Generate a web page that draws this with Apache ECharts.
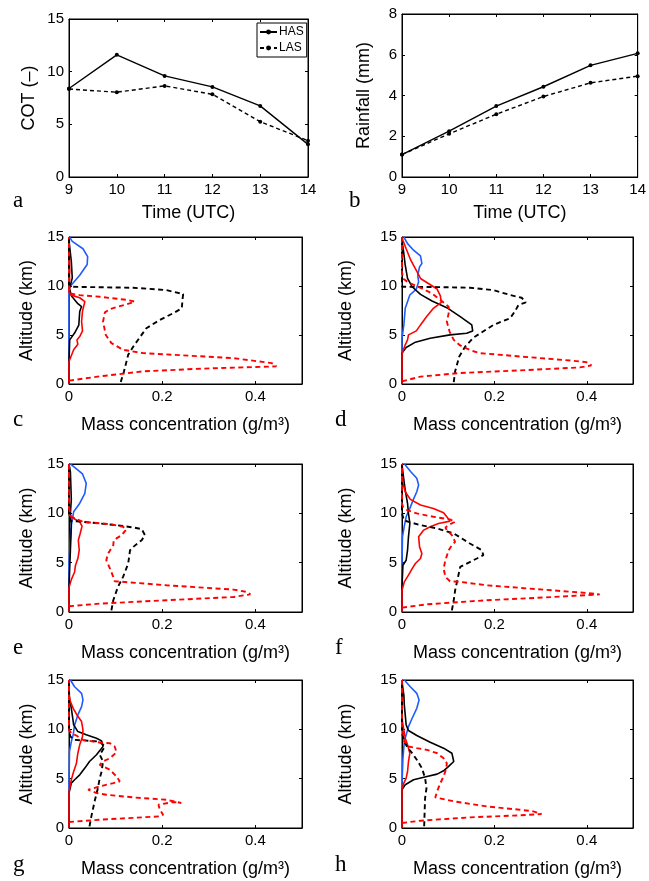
<!DOCTYPE html>
<html>
<head>
<meta charset="utf-8">
<script src="https://cdn.jsdelivr.net/npm/echarts@6/dist/echarts.min.js"></script>
<style>
html,body{margin:0;padding:0;background:#fff;}
#chart{width:649px;height:881px;}
</style>
</head>
<body>
<div id="chart"></div>
<script>
// ---------- Data ----------
const timeUTC = [9, 10, 11, 12, 13, 14];
const cotHAS = [8.4, 11.6, 9.6, 8.55, 6.75, 3.1];
const cotLAS = [8.35, 8.05, 8.65, 7.85, 5.25, 3.45];
const rainHAS = [1.1, 2.25, 3.48, 4.43, 5.48, 6.07];
const rainLAS = [1.1, 2.12, 3.08, 3.95, 4.62, 4.95];

const concTicks = [0, 0.2, 0.4];
const altTicks = [0, 5, 10, 15];

// profiles: [mass concentration (g/m3), altitude (km)]
const cBlue = [[0,0],[0,4.7],[0,9.75],[0.005,10.1],[0.023,11.1],[0.039,12.2],[0.040,13.0],[0.030,13.8],[0.007,14.56],[0.001,15]];
const cBlack = [[0,0],[0,2.3],[0.0015,4.5],[0.012,5.2],[0.021,6.0],[0.023,7.4],[0.027,7.9],[0.019,8.2],[0.005,9.0],[0.001,9.75],[0.007,10.8],[0.005,12.5],[0.001,14.2],[0,15]];
const cRed = [[0,0],[0,2.3],[0.010,3.5],[0.019,4.06],[0.017,4.5],[0.023,4.84],[0.029,5.42],[0.027,6.37],[0.029,7.45],[0.034,8.4],[0.023,8.8],[0.005,9.07],[0,9.4],[0.0015,11.8],[0,14.2],[0,15]];
const cBlackDash = [[0.111,0.2],[0.118,1.29],[0.127,2.98],[0.138,3.83],[0.166,5.69],[0.195,6.54],[0.227,7.31],[0.242,7.72],[0.244,8.8],[0.245,9.18],[0.209,9.58],[0.138,9.82],[0.005,9.92],[0,10.1],[0,15]];
const cRedDash = [[0,0.34],[0.066,0.78],[0.159,1.29],[0.281,1.56],[0.445,1.8],[0.435,2.13],[0.353,2.64],[0.159,3.15],[0.116,3.49],[0.091,4.17],[0.079,5.0],[0.073,6.37],[0.077,7.31],[0.088,7.65],[0.123,8.13],[0.141,8.4],[0.127,8.57],[0.066,8.9],[0.023,9.07],[0.001,9.25],[0,15]];

const dBlue = [[0,0],[0,4.67],[0.004,6.03],[0.007,7.72],[0.017,9.08],[0.031,9.69],[0.036,10.43],[0.034,11.1],[0.038,11.95],[0.043,12.3],[0.040,13.07],[0.025,13.65],[0.012,14.32],[0.004,15]];
const dBlack = [[0,0],[0,3.15],[0.009,3.72],[0.029,4.27],[0.061,4.67],[0.104,5.01],[0.140,5.18],[0.153,5.42],[0.151,6.03],[0.126,6.87],[0.097,7.79],[0.065,8.47],[0.040,9.14],[0.022,9.92],[0.012,10.77],[0.007,12.12],[0.004,13.31],[0.001,14.32],[0,15]];
const dRed = [[0,0],[0,3.05],[0.007,4.0],[0.012,4.5],[0.014,5.01],[0.031,5.42],[0.040,6.03],[0.053,6.87],[0.068,7.72],[0.085,8.33],[0.083,9.0],[0.076,9.69],[0.058,10.23],[0.040,10.77],[0.031,11.6],[0.019,12.63],[0.009,13.8],[0.002,14.66],[0,15]];
const dBlackDash = [[0.112,0.2],[0.115,1.29],[0.124,2.81],[0.137,3.83],[0.155,4.74],[0.198,6.03],[0.234,6.71],[0.245,7.45],[0.252,8.06],[0.268,8.33],[0.259,8.8],[0.234,9.08],[0.198,9.58],[0.147,9.82],[0.076,9.89],[0,9.92],[0,15]];
const dRedDash = [[0,0.27],[0.040,0.75],[0.126,1.12],[0.255,1.39],[0.385,1.69],[0.410,1.9],[0.399,2.23],[0.371,2.37],[0.255,2.81],[0.169,3.15],[0.151,3.39],[0.126,3.93],[0.112,4.5],[0.103,5.35],[0.097,6.37],[0.101,7.21],[0.101,7.89],[0.086,8.47],[0.065,9.24],[0.040,9.82],[0.014,10.36],[0.002,10.77],[0,11.45],[0,15]];

const eBlue = [[0,0],[0,4.9],[0.002,6.6],[0.004,8.47],[0.010,10.16],[0.022,10.94],[0.034,12.02],[0.037,13.04],[0.029,13.99],[0.010,14.73],[0.003,15]];
const eBlack = [[0,0],[0,2.54],[0.003,6.26],[0.005,8.64],[0.003,10.0],[0.005,11.4],[0.003,14.2],[0,15]];
const eRed = [[0,0],[0,2.47],[0.005,3.28],[0.012,4.06],[0.014,4.74],[0.019,5.42],[0.022,6.26],[0.020,7.28],[0.024,7.96],[0.028,8.7],[0.023,9.14],[0.010,9.48],[0.001,9.82],[0,10.33],[0,15]];
const eBlackDash = [[0.091,0.17],[0.095,1.19],[0.105,2.54],[0.116,3.56],[0.127,4.91],[0.131,6.26],[0.138,6.6],[0.156,7.28],[0.163,7.79],[0.156,8.4],[0.138,8.57],[0.102,8.8],[0.030,9.14],[0.003,9.24],[0,9.99],[0,15]];
const eRedDash = [[0,0.58],[0.066,0.85],[0.209,1.19],[0.353,1.52],[0.389,1.79],[0.382,2.03],[0.353,2.27],[0.209,2.71],[0.098,3.12],[0.095,3.56],[0.088,4.4],[0.080,5.25],[0.084,5.93],[0.095,6.77],[0.096,7.28],[0.113,7.79],[0.123,8.36],[0.116,8.64],[0.088,8.9],[0.030,9.14],[0.005,9.65],[0.001,10.33],[0,15]];

const fBlue = [[0,0],[0,4.9],[0.001,7.62],[0.005,8.7],[0.009,9.65],[0.017,10.5],[0.024,11.34],[0.032,12.19],[0.036,12.87],[0.032,13.55],[0.019,14.22],[0.007,14.9],[0.005,15]];
const fBlack = [[0,0],[0,2.54],[0.002,4.74],[0.009,5.25],[0.012,6.26],[0.014,7.62],[0.017,8.97],[0.014,9.99],[0.012,11.0],[0.007,12.36],[0.004,13.38],[0.001,14.56],[0,15]];
const fRed = [[0,0],[0,2.2],[0.005,3.05],[0.014,3.73],[0.022,4.4],[0.029,4.91],[0.040,5.42],[0.043,5.93],[0.038,6.6],[0.036,7.62],[0.047,8.3],[0.061,8.64],[0.079,8.97],[0.104,9.21],[0.097,9.65],[0.090,10.06],[0.068,10.5],[0.040,10.84],[0.018,11.41],[0.007,12.19],[0.002,13.04],[0,14.05],[0,15]];
const fBlackDash = [[0.108,0.17],[0.112,1.19],[0.115,2.2],[0.119,3.05],[0.126,4.57],[0.133,4.74],[0.162,5.42],[0.176,5.76],[0.173,6.26],[0.147,6.94],[0.126,7.55],[0.112,7.96],[0.076,8.47],[0.040,8.8],[0.014,9.14],[0.004,9.31],[0,9.99],[0,15]];
const fRedDash = [[0,0.44],[0.054,0.78],[0.183,1.19],[0.327,1.52],[0.428,1.79],[0.399,1.93],[0.183,2.71],[0.126,3.05],[0.104,3.12],[0.094,3.56],[0.090,4.4],[0.094,5.25],[0.101,6.26],[0.108,6.77],[0.115,7.11],[0.108,7.79],[0.097,8.3],[0.094,8.57],[0.104,8.9],[0.115,9.14],[0.104,9.38],[0.068,9.65],[0.032,9.99],[0.011,10.33],[0.002,10.67],[0,11],[0,15]];

const gBlue = [[0,0],[0,4.5],[0.001,7.75],[0.005,8.76],[0.009,9.44],[0.012,10.45],[0.019,11.46],[0.027,12.3],[0.030,12.98],[0.027,13.65],[0.012,14.32],[0.003,15]];
const gBlack = [[0,0],[0,3.54],[0.005,4.55],[0.012,4.89],[0.023,5.39],[0.034,6.07],[0.044,6.74],[0.059,7.42],[0.073,8.26],[0.070,8.83],[0.059,9.1],[0.037,9.44],[0.019,9.77],[0.010,10.45],[0.007,11.46],[0.005,12.13],[0.001,13.14],[0,14.49],[0,15]];
const gRed = [[0,0],[0,3.7],[0.005,4.89],[0.010,5.73],[0.016,6.57],[0.019,7.58],[0.023,8.43],[0.029,9.27],[0.030,9.94],[0.027,10.79],[0.017,11.46],[0.009,12.13],[0.003,12.81],[0,13.48],[0,15]];
const gBlackDash = [[0.044,0.17],[0.048,1.18],[0.055,2.7],[0.062,4.04],[0.066,5.06],[0.070,5.73],[0.073,6.74],[0.066,7.42],[0.077,8.26],[0.066,8.76],[0.037,8.86],[0.012,8.93],[0.003,9.27],[0,9.77],[0,15]];
const gRedDash = [[0,0.61],[0.066,0.84],[0.195,1.18],[0.202,1.35],[0.195,1.85],[0.192,2.36],[0.224,2.63],[0.241,2.53],[0.209,2.86],[0.138,3.1],[0.080,3.37],[0.059,3.54],[0.041,3.88],[0.066,4.21],[0.095,4.55],[0.109,4.72],[0.102,5.22],[0.088,5.9],[0.066,6.4],[0.073,6.74],[0.088,7.08],[0.102,7.68],[0.098,8.26],[0.088,8.59],[0.066,8.66],[0.030,8.93],[0.016,9.37],[0.005,9.61],[0,9.94],[0,15]];

const hBlue = [[0,0],[0,4.5],[0.002,7.08],[0.005,8.76],[0.009,9.44],[0.014,10.28],[0.022,11.12],[0.032,12.13],[0.037,12.98],[0.032,13.65],[0.018,14.32],[0.005,15]];
const hBlack = [[0,0],[0,3.9],[0.007,4.38],[0.025,4.89],[0.054,5.22],[0.076,5.46],[0.090,5.8],[0.101,6.24],[0.112,6.74],[0.115,6.91],[0.108,7.58],[0.090,8.09],[0.061,8.69],[0.032,9.37],[0.014,9.88],[0.009,10.45],[0.007,11.46],[0.005,12.47],[0.004,13.48],[0.001,14.49],[0,15]];
const hRed = [[0,0],[0,4.0],[0.004,4.55],[0.009,5.06],[0.012,5.73],[0.014,6.74],[0.017,7.58],[0.012,8.43],[0.007,9.1],[0.004,9.94],[0.001,10.79],[0,11.5],[0,15]];
const hBlackDash = [[0.048,0.17],[0.049,1.69],[0.050,3.03],[0.053,4.04],[0.050,5.06],[0.043,6.07],[0.032,6.91],[0.022,7.58],[0.012,8.16],[0.005,8.76],[0.001,9.44],[0,10],[0,15]];
const hRedDash = [[0,0.51],[0.040,0.74],[0.147,1.08],[0.255,1.28],[0.302,1.42],[0.284,1.69],[0.255,1.85],[0.183,2.19],[0.112,2.7],[0.072,3.1],[0.076,3.71],[0.083,4.55],[0.090,5.22],[0.096,6.07],[0.097,6.57],[0.090,7.08],[0.076,7.58],[0.054,7.92],[0.032,8.09],[0.014,8.26],[0.005,8.76],[0.002,9.78],[0,10.28],[0,15]];

// ---------- Layout / style ----------
const FONT = "'Liberation Sans', Arial, Helvetica, sans-serif";
const SERIF = "'Liberation Serif', 'Times New Roman', serif";
const BLUE = '#1f5cff', RED = '#ff0000', BLACK = '#000000';

const panels = [
  {id:'a', grid:{left:69, top:19, width:239, height:158}, letter:[13,209]},
  {id:'b', grid:{left:402, top:14, width:239, height:163}, letter:[349,209]},
  {id:'c', grid:{left:69, top:237, width:233, height:147}, letter:[13,428], prof:[cBlue,cBlack,cRed,cBlackDash,cRedDash], ygap:33},
  {id:'d', grid:{left:402, top:237, width:231, height:147}, letter:[335,428], prof:[dBlue,dBlack,dRed,dBlackDash,dRedDash], ygap:47},
  {id:'e', grid:{left:69, top:464, width:233, height:148}, letter:[13,656], prof:[eBlue,eBlack,eRed,eBlackDash,eRedDash], ygap:33},
  {id:'f', grid:{left:402, top:464, width:231, height:148}, letter:[335,656], prof:[fBlue,fBlack,fRed,fBlackDash,fRedDash], ygap:47},
  {id:'g', grid:{left:69, top:680, width:233, height:148}, letter:[13,873], prof:[gBlue,gBlack,gRed,gBlackDash,gRedDash], ygap:33},
  {id:'h', grid:{left:402, top:680, width:231, height:148}, letter:[335,873], prof:[hBlue,hBlack,hRed,hBlackDash,hRedDash], ygap:47}
];

const grids = [], xAxes = [], yAxes = [], series = [], graphics = [];
const tickStyle = {show:true, inside:true, length:3, lineStyle:{color:'#000', width:1}};
const lineAx = {show:true, onZero:false, lineStyle:{color:'#000', width:1}};
const lblStyle = {color:'#000', fontFamily:FONT, fontSize:15, margin:5};
const nameStyle = {color:'#000', fontFamily:FONT, fontSize:18};

function addAxes(gi, xr, yr, xName, yName, xGap, yGap, xFmt) {
  const xi = xAxes.length;
  xAxes.push({type:'value', gridIndex:gi, position:'bottom', min:xr[0], max:xr[1], interval:xr[2],
    axisLine:lineAx, axisTick:tickStyle, splitLine:{show:false},
    axisLabel:Object.assign({}, lblStyle, {formatter:xFmt}),
    name:xName, nameLocation:'middle', nameGap:xGap, nameTextStyle:nameStyle});
  xAxes.push({type:'value', gridIndex:gi, position:'top', min:xr[0], max:xr[1], interval:xr[2],
    axisLine:lineAx, axisTick:tickStyle, splitLine:{show:false}, axisLabel:{show:false}});
  const yi = yAxes.length;
  yAxes.push({type:'value', gridIndex:gi, position:'left', min:yr[0], max:yr[1], interval:yr[2],
    axisLine:lineAx, axisTick:tickStyle, splitLine:{show:false},
    axisLabel:Object.assign({}, lblStyle),
    name:yName, nameLocation:'middle', nameRotate:90, nameGap:yGap, nameTextStyle:nameStyle});
  yAxes.push({type:'value', gridIndex:gi, position:'right', min:yr[0], max:yr[1], interval:yr[2],
    axisLine:lineAx, axisTick:tickStyle, splitLine:{show:false}, axisLabel:{show:false}});
  return [xi, yi];
}

const concFmt = v => (concTicks.some(t => Math.abs(t - v) < 1e-9) ? String(v) : '');

panels.forEach((p, gi) => {
  grids.push(Object.assign({show:true, borderColor:'#000', borderWidth:1, backgroundColor:'#fff'}, p.grid));
  graphics.push({type:'text', left:p.letter[0], top:p.letter[1]-20,
    style:{text:p.id, fontFamily:SERIF, fontSize:23, fill:'#000'}});
  if (p.id === 'a' || p.id === 'b') {
    const isA = p.id === 'a';
    const [xi, yi] = addAxes(gi, [9, 14, 1], isA ? [0, 15, 5] : [0, 8, 2],
      'Time (UTC)', isA ? 'COT (–)' : 'Rainfall (mm)', 27, isA ? 31 : 29, v => String(v));
    const has = isA ? cotHAS : rainHAS, las = isA ? cotLAS : rainLAS;
    series.push({type:'line', name:'HAS', xAxisIndex:xi, yAxisIndex:yi,
      data: timeUTC.map((t, i) => [t, has[i]]),
      symbol:'circle', symbolSize:4, itemStyle:{color:BLACK},
      lineStyle:{color:BLACK, width:1.4, type:'solid'}, animation:false, clip:false});
    series.push({type:'line', name:'LAS', xAxisIndex:xi, yAxisIndex:yi,
      data: timeUTC.map((t, i) => [t, las[i]]),
      symbol:'circle', symbolSize:4, itemStyle:{color:BLACK},
      lineStyle:{color:BLACK, width:1.4, type:[4, 3]}, animation:false, clip:false});
  } else {
    const [xi, yi] = addAxes(gi, [0, 0.5, 0.2], [0, 15, 5],
      'Mass concentration (g/m³)', 'Altitude (km)', 32, p.ygap, concFmt);
    const styles = [
      {c:BLUE, t:'solid', w:1.6},
      {c:BLACK, t:'solid', w:1.6},
      {c:RED, t:'solid', w:1.6},
      {c:BLACK, t:[5, 3.5], w:1.9},
      {c:RED, t:[5, 3.5], w:1.9}
    ];
    p.prof.forEach((arr, k) => {
      series.push({type:'line', name:p.id + k, xAxisIndex:xi, yAxisIndex:yi, data:arr,
        symbol:'none', smooth:false, clip:false, animation:false,
        lineStyle:{color:styles[k].c, width:styles[k].w, type:styles[k].t}});
    });
  }
});

const chart = echarts.init(document.getElementById('chart'), null, {renderer:'canvas'});
chart.setOption({
  animation:false,
  backgroundColor:'#fff',
  grid:grids,
  xAxis:xAxes,
  yAxis:yAxes,
  series:series,
  graphic:graphics,
  legend:{
    data:['HAS', 'LAS'], left:257, top:23, orient:'vertical',
    itemWidth:17, itemHeight:6, itemGap:4, padding:[3, 3, 3, 2],
    borderColor:'#000', borderWidth:1, backgroundColor:'#fff',
    textStyle:{color:'#000', fontFamily:FONT, fontSize:12, padding:[0,0,0,-3]},
    selectedMode:false
  }
});
</script>
</body>
</html>
